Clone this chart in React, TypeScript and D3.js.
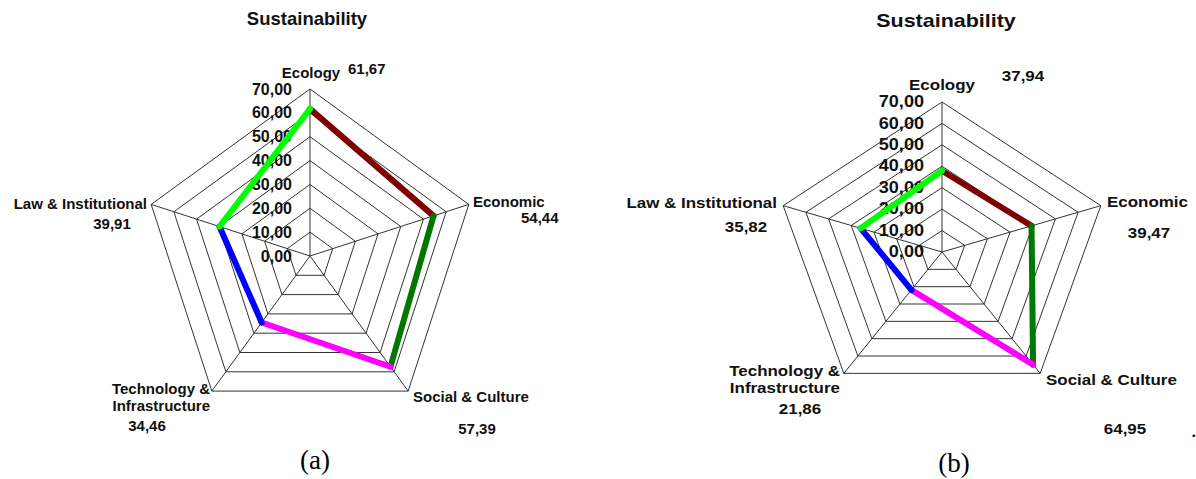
import * as d3 from "d3";

// axis names (multi-line where the chart wraps them)
const axisLabels = [
  ["Ecology"],
  ["Economic"],
  ["Social & Culture"],
  ["Technology &", "Infrastructure"],
  ["Law & Institutional"],
];
const valuesA = [61.67, 54.44, 57.39, 34.46, 39.91];
const valuesB = [37.94, 39.47, 64.95, 21.86, 35.82];
const gridTicks = [0, 10, 20, 30, 40, 50, 60, 70];
// colour of the segment that starts at each axis
const segmentColors = ["#800000", "#007800", "#ff00ff", "#0000ff", "#00ff00"];
const chartTitle = "Sustainability";
const captions = ["(a)", "(b)"];

const locale = d3.formatLocale({ decimal: ",", thousands: ".", grouping: [3], currency: ["", ""] });
const fmt = locale.format(".2f");

type Anchor = "start" | "middle" | "end";
type Pos = { x: number; y: number; a: Anchor };

// panel layout: centre, radii, text stretch and label spots
const panelA = {
  cx: 310, cy: 256, rx: 167, ry: 167, sx: 1, titleSize: 18.5,
  title: { x: 307, y: 18 },
  caption: { x: 315, y: 460 },
  labels: [
    { x: 311, y: 72, a: "middle" },
    { x: 473, y: 201, a: "start" },
    { x: 413, y: 396, a: "start" },
    { x: 210, y: 388, a: "end" },
    { x: 147, y: 203, a: "end" },
  ] as Pos[],
  valuePos: [
    { x: 348, y: 68, a: "start" },
    { x: 521, y: 217, a: "start" },
    { x: 477, y: 428, a: "middle" },
    { x: 147, y: 425, a: "middle" },
    { x: 112, y: 223, a: "middle" },
  ] as Pos[],
};

const panelB = {
  cx: 942, cy: 252, rx: 167, ry: 150, sx: 1.13, titleSize: 19,
  title: { x: 946, y: 20 },
  caption: { x: 954, y: 463 },
  labels: [
    { x: 942, y: 85, a: "middle" },
    { x: 1107, y: 202, a: "start" },
    { x: 1046, y: 380, a: "start" },
    { x: 840, y: 371, a: "end" },
    { x: 777, y: 203, a: "end" },
  ] as Pos[],
  valuePos: [
    { x: 1023, y: 76, a: "middle" },
    { x: 1149, y: 233, a: "middle" },
    { x: 1125, y: 429, a: "middle" },
    { x: 800, y: 409, a: "middle" },
    { x: 746, y: 227, a: "middle" },
  ] as Pos[],
};

const FONT = "'Liberation Sans', Arial, sans-serif";

function Radar({ values, p, caption }: { values: number[]; p: typeof panelA; caption: string }) {
  const n = axisLabels.length;
  const r = d3.scaleLinear().domain([0, 70]).range([0, 1]);
  const angle = d3.scaleLinear().domain([0, n]).range([0, 2 * Math.PI]);
  const pt = (i: number, v: number): [number, number] => [
    p.cx + Math.sin(angle(i)) * r(v) * p.rx,
    p.cy - Math.cos(angle(i)) * r(v) * p.ry,
  ];
  const line = d3.line();
  const idx = d3.range(n);
  const txt = (x: number, y: number) => `translate(${x},${y}) scale(${p.sx},1)`;

  return (
    <g>
      <text transform={txt(p.title.x, p.title.y)} textAnchor="middle" dominantBaseline="central"
        fontFamily={FONT} fontWeight="bold" fontSize={p.titleSize} fill="#111">{chartTitle}</text>

      {/* grid rings */}
      {gridTicks.filter((t) => t > 0).map((t) => (
        <path key={t} d={line(idx.map((i) => pt(i, t))) + "Z"} fill="none" stroke="#333" strokeWidth={1} />
      ))}
      {/* spokes */}
      {idx.map((i) => {
        const [x, y] = pt(i, 70);
        return <line key={i} x1={p.cx} y1={p.cy} x2={x} y2={y} stroke="#333" strokeWidth={1} />;
      })}

      {/* tick labels */}
      {gridTicks.map((t) => (
        <text key={t} transform={txt(p.cx - 18, pt(0, t)[1])} textAnchor="end" dominantBaseline="central"
          fontFamily={FONT} fontWeight="bold" fontSize={16} fill="#111">{fmt(t)}</text>
      ))}

      {/* series, one colour per segment */}
      {idx.map((i) => {
        const [x1, y1] = pt(i, values[i]);
        const [x2, y2] = pt((i + 1) % n, values[(i + 1) % n]);
        return <line key={i} x1={x1} y1={y1} x2={x2} y2={y2} stroke={segmentColors[i]} strokeWidth={6} strokeLinecap="round" />;
      })}

      {/* axis labels */}
      {idx.map((i) => (
        <text key={i} transform={txt(p.labels[i].x, p.labels[i].y)} textAnchor={p.labels[i].a}
          fontFamily={FONT} fontWeight="bold" fontSize={15} fill="#111">
          {axisLabels[i].map((s, k) => (
            <tspan key={k} x={0} y={k * 17} dominantBaseline="central">{s}</tspan>
          ))}
        </text>
      ))}
      {/* value labels */}
      {idx.map((i) => (
        <text key={i} transform={txt(p.valuePos[i].x, p.valuePos[i].y)} textAnchor={p.valuePos[i].a}
          dominantBaseline="central" fontFamily={FONT} fontWeight="bold" fontSize={15} fill="#111">
          {fmt(values[i])}
        </text>
      ))}

      <text x={p.caption.x} y={p.caption.y} textAnchor="middle" dominantBaseline="central"
        fontFamily="'Liberation Serif', 'Times New Roman', serif" fontSize={27} fill="#000">{caption}</text>
    </g>
  );
}

export default function App() {
  return (
    <div style={{ position: "absolute", left: 0, top: 0 }}>
      <svg width={1196} height={479} style={{ display: "block", background: "#fff" }}>
        <Radar values={valuesA} p={panelA} caption={captions[0]} />
        <Radar values={valuesB} p={panelB} caption={captions[1]} />
        <text x={1191} y={437} fontFamily="'Liberation Serif', serif" fontSize={22} fill="#000">.</text>
      </svg>
    </div>
  );
}
